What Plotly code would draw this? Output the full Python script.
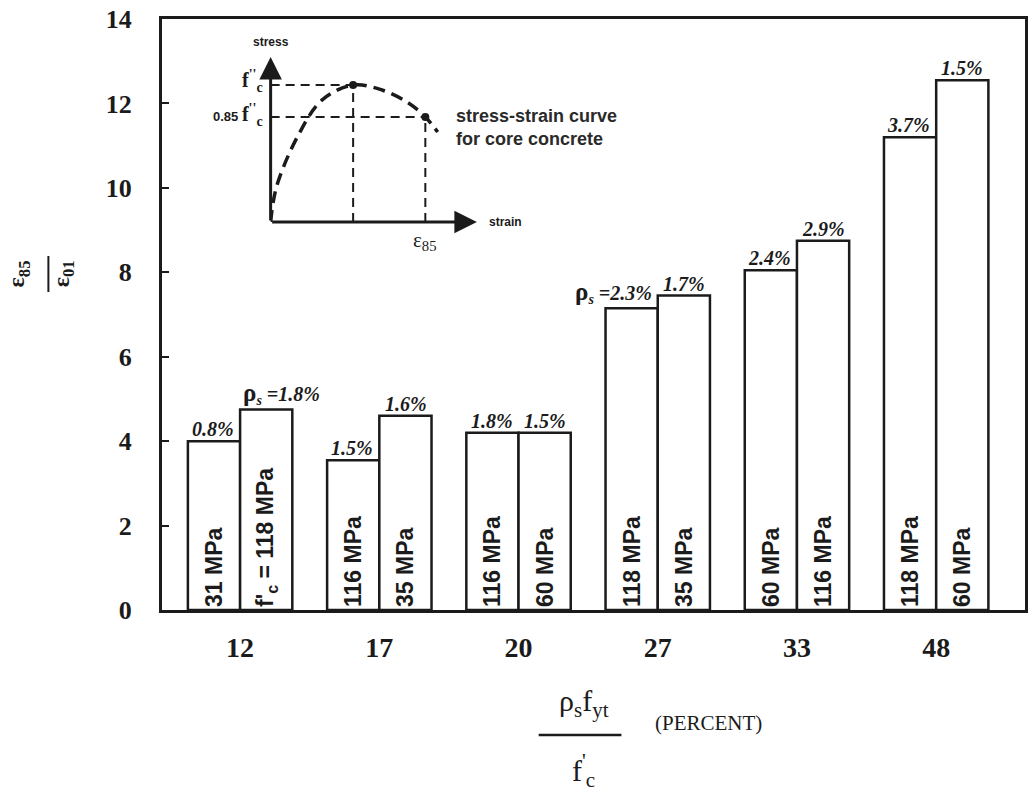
import plotly.graph_objects as go

# ---------------- data ----------------
groups = ["12", "17", "20", "27", "33", "48"]          # rho_s*f_yt/f'c (percent)
ratio_a = [4.0, 3.55, 4.2, 7.15, 8.05, 11.2]             # eps85/eps01, first bar of each pair
ratio_b = [4.75, 4.6, 4.2, 7.45, 8.75, 12.55]            # eps85/eps01, second bar of each pair
fc_a = ["31 MPa", "116 MPa", "116 MPa", "118 MPa", "60 MPa", "118 MPa"]
fc_b = ["f'<sub>c</sub> = 118 MPa", "35 MPa", "60 MPa", "35 MPa", "116 MPa", "60 MPa"]
rho_a = ["0.8%", "1.5%", "1.8%", "ρ<sub>s</sub> =2.3%", "2.4%", "3.7%"]
rho_b = ["ρ<sub>s</sub> =1.8%", "1.6%", "1.5%", "1.7%", "2.9%", "1.5%"]

# schematic stress-strain inset (normalised strain / stress)
inset_strain = [0.0, 0.03, 0.14, 0.25, 0.40, 0.54, 0.67, 0.75, 0.81]
inset_stress = [0.0, 0.22, 0.54, 0.74, 0.83, 0.80, 0.72, 0.636, 0.545]
peak_pt = (0.40, 0.83)
p85_pt = (0.75, 0.636)

# ---------------- layout constants ----------------
W, H = 1032, 804
ML, MR, MT, MB = 162, 4, 19, 194
PW, PH = W - ML - MR, H - MT - MB
XR = [-0.561, 5.638]
BARGAP = 0.25
px_per_unit = PW / (XR[1] - XR[0])
half_bar = (1 - BARGAP) / 2 * px_per_unit / 2

INK = "#1b1b1b"
SERIF = "Liberation Serif, Times New Roman, serif"
SANS = "Liberation Sans, Arial, sans-serif"

def px_x(px):
    return (px - ML) / PW

def px_y(py):
    return (H - MB - py) / PH

def upright_rho(t):
    return t.replace("ρ", "<span style='font-style:normal;font-size:25px'>ρ</span>")

fig = go.Figure()

bar_style = dict(
    marker=dict(color="white", line=dict(color=INK, width=2.5)),
    textposition="inside",
    insidetextanchor="start",
    textangle=-90,
    textfont=dict(family=SANS, size=23, color=INK, weight="bold"),
    showlegend=False,
    hoverinfo="skip",
)
fig.add_trace(go.Bar(x=groups, y=ratio_a, text=fc_a, **bar_style))
fig.add_trace(go.Bar(x=groups, y=ratio_b, text=fc_b, **bar_style))

annotations = []
pct_font = dict(family=SERIF, size=20, color=INK, style="italic", weight="bold")
for i, (v, t) in enumerate(zip(ratio_a, rho_a)):
    annotations.append(dict(x=i, y=v, xref="x", yref="y", text=upright_rho(t), showarrow=False,
                            xanchor="right", yanchor="bottom", xshift=-4, yshift=-1,
                            font=pct_font))
for i, (v, t) in enumerate(zip(ratio_b, rho_b)):
    if t.startswith("ρ"):
        annotations.append(dict(x=i, y=v, xref="x", yref="y", text=upright_rho(t), showarrow=False,
                                xanchor="left", yanchor="bottom", xshift=1, yshift=-1,
                                font=pct_font))
    else:
        annotations.append(dict(x=i, y=v, xref="x", yref="y", text=t, showarrow=False,
                                xanchor="center", yanchor="bottom", xshift=half_bar, yshift=-1,
                                font=pct_font))

# ---- inset: stress-strain curve ----
fig.add_trace(go.Scatter(x=inset_strain, y=inset_stress, xaxis="x2", yaxis="y2",
                         mode="lines", line=dict(color=INK, width=3.5, dash="12px,7px", shape="spline"),
                         showlegend=False, hoverinfo="skip"))
fig.add_trace(go.Scatter(x=[peak_pt[0], p85_pt[0]], y=[peak_pt[1], p85_pt[1]], xaxis="x2", yaxis="y2",
                         mode="markers", marker=dict(color=INK, size=8),
                         showlegend=False, hoverinfo="skip"))
shapes = []
guide = dict(color=INK, width=2, dash="9px,6px")
for (sx, sy) in (peak_pt, p85_pt):
    shapes.append(dict(type="line", xref="x2", yref="y2", x0=0, y0=sy, x1=sx, y1=sy, line=guide))
    shapes.append(dict(type="line", xref="x2", yref="y2", x0=sx, y0=0, x1=sx, y1=sy, line=guide))

for (tx, ty) in ((1.0, 0.0), (0.0, 1.0)):
    annotations.append(dict(x=tx, y=ty, ax=0, ay=0, xref="x2", yref="y2", axref="x2", ayref="y2",
                            text="", showarrow=True, arrowhead=2, arrowsize=1.5, arrowwidth=3,
                            arrowcolor=INK))

inset_font = dict(family=SANS, size=12, color=INK, weight="bold")
annotations += [
    dict(x=0.0, y=1.0, xref="x2", yref="y2", text="stress", showarrow=False,
         xanchor="center", yanchor="bottom", yshift=6, font=inset_font),
    dict(x=1.0, y=0.0, xref="x2", yref="y2", text="strain", showarrow=False,
         xanchor="left", yanchor="middle", xshift=10, font=inset_font),
    dict(x=0.0, y=peak_pt[1], xref="x2", yref="y2", text="f<sup>''</sup><sub>c</sub>", showarrow=False,
         xanchor="right", yanchor="middle", xshift=-6, yshift=4,
         font=dict(family=SERIF, size=20, color=INK, weight="bold")),
    dict(x=0.0, y=p85_pt[1], xref="x2", yref="y2",
         text="0.85 <span style='font-family:Liberation Serif;font-size:20px'>f<sup>''</sup><sub>c</sub></span>",
         showarrow=False, xanchor="right", yanchor="middle", xshift=-6, yshift=2,
         font=dict(family=SANS, size=13, color=INK, weight="bold")),
    dict(x=p85_pt[0], y=0.0, xref="x2", yref="y2", text="ε<sub>85</sub>", showarrow=False,
         xanchor="center", yanchor="top", yshift=-4,
         font=dict(family=SERIF, size=21, color=INK)),
    dict(x=px_x(455), y=px_y(117), xref="paper", yref="paper",
         text="stress-strain curve<br>for core concrete", showarrow=False, align="left",
         xanchor="left", yanchor="middle", yshift=-11,
         font=dict(family=SANS, size=18, color="#2a2a2a", weight="bold")),
]

# ---- axis titles as fractions ----
title_font = dict(family=SERIF, size=30, color=INK)
annotations += [
    dict(x=px_x(585), y=px_y(703), xref="paper", yref="paper", text="ρ<sub>s</sub>f<sub>yt</sub>",
         showarrow=False, xanchor="center", yanchor="middle", font=title_font),
    dict(x=px_x(585), y=px_y(770), xref="paper", yref="paper", text="f<sup>'</sup><sub>c</sub>",
         showarrow=False, xanchor="center", yanchor="middle", font=title_font),
    dict(x=px_x(655), y=px_y(723), xref="paper", yref="paper", text="(PERCENT)",
         showarrow=False, xanchor="left", yanchor="middle",
         font=dict(family=SERIF, size=21, color=INK)),
    dict(x=px_x(18), y=px_y(274), xref="paper", yref="paper", text="ε<sub>85</sub>",
         showarrow=False, textangle=-90, xanchor="center", yanchor="middle",
         font=dict(family=SERIF, size=24, color=INK, weight="bold")),
    dict(x=px_x(63), y=px_y(274), xref="paper", yref="paper", text="ε<sub>01</sub>",
         showarrow=False, textangle=-90, xanchor="center", yanchor="middle",
         font=dict(family=SERIF, size=24, color=INK, weight="bold")),
]
shapes += [
    dict(type="line", xref="paper", yref="paper", x0=px_x(540), x1=px_x(623),
         y0=px_y(735), y1=px_y(735), line=dict(color=INK, width=2.5)),
    dict(type="line", xref="paper", yref="paper", x0=px_x(48), x1=px_x(48),
         y0=px_y(256), y1=px_y(292), line=dict(color=INK, width=2)),
]

fig.update_layout(
    width=W, height=H,
    margin=dict(l=ML, r=MR, t=MT, b=MB, pad=0),
    paper_bgcolor="white", plot_bgcolor="white",
    barmode="group", bargap=BARGAP, bargroupgap=0,
    xaxis=dict(type="category", range=XR, showgrid=False, zeroline=False,
               showline=True, linecolor=INK, linewidth=3, mirror=True,
               ticks="", tickfont=dict(family=SERIF, size=28, color=INK, weight="bold"),
               ticklabelstandoff=10),
    yaxis=dict(range=[0, 14], dtick=2, showgrid=False, zeroline=False,
               showline=True, linecolor=INK, linewidth=3, mirror=True,
               ticks="inside", ticklen=7, tickwidth=2, tickcolor=INK,
               tickfont=dict(family=SERIF, size=26, color=INK, weight="bold"),
               ticklabelstandoff=22),
    xaxis2=dict(domain=[px_x(271), px_x(478)], range=[0, 1], visible=False, anchor="y2"),
    yaxis2=dict(domain=[px_y(222), px_y(57)], range=[0, 1], visible=False, anchor="x2"),
    annotations=annotations,
    shapes=shapes,
)

fig.write_html("out.html")
